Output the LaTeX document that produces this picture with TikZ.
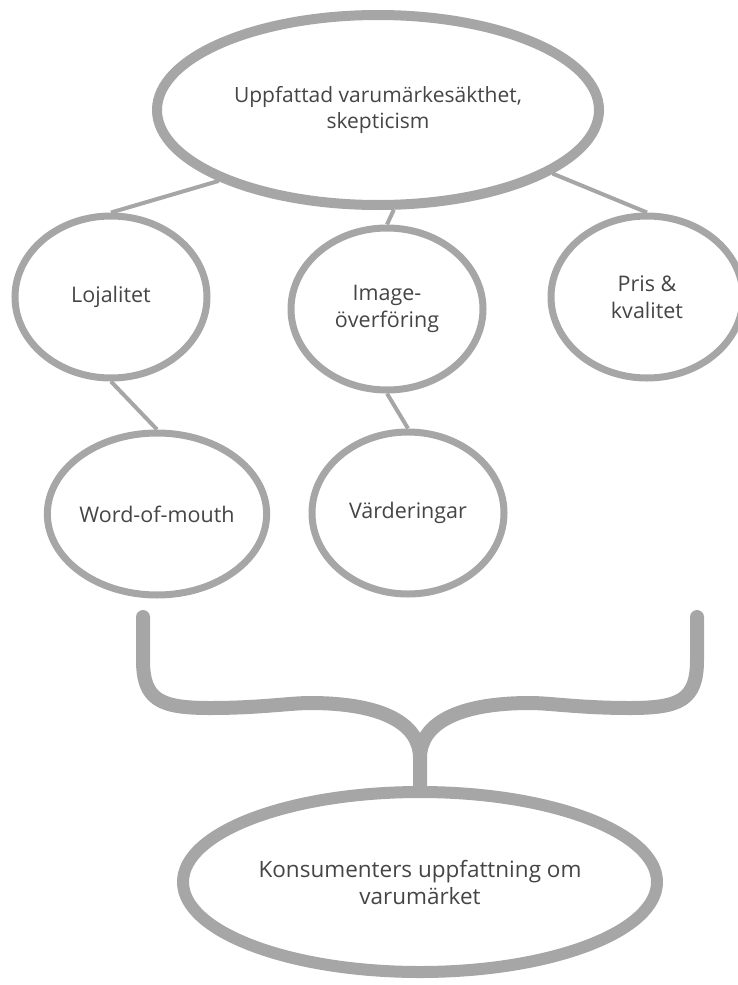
\documentclass[tikz,border=0pt]{standalone}
\usepackage{fontspec}
\setmainfont{Open Sans}
\usetikzlibrary{shapes.geometric}
\definecolor{rim}{HTML}{A6A6A6}
\definecolor{ink}{HTML}{454545}

\begin{document}
\begin{tikzpicture}[x=1pt,y=-1pt,
    every node/.style={ellipse,draw=rim,text=ink,align=center,inner sep=0pt,
      font=\fontsize{21.5}{27}\selectfont},
    bubble/.style={line width=7pt,minimum width=192pt,minimum height=162pt},
    big/.style={line width=10pt,minimum width=442pt,minimum height=190pt},
    link/.style={draw=rim,line width=4pt},
    brace/.style={draw=rim,line width=14pt,line cap=round}]
   \useasboundingbox (0,0) rectangle (737,985);

   \node[big,font=\fontsize{21}{26}\selectfont] (top) at (378,110)
      {Uppfattad varumärkesäkthet,\\skepticism};
   \node[bubble] (loj)  at (111,297) {Lojalitet};
   \node[bubble] (img)  at (387,309) {Image-\\överföring};
   \node[bubble] (pris) at (647,297) {Pris \&\\kvalitet};
   \node[bubble] (wom)  at (157,514) {Word-of-mouth};
   \node[bubble] (vard) at (408,513) {Värderingar};
   \node[big,line width=12pt,minimum width=474pt,minimum height=180pt,
      font=\fontsize{22.5}{27}\selectfont] (cons)
      at (420,882) {Konsumenters uppfattning om\\varumärket};

   \path[link]
    (top.204) edge (loj.north)
    (top.279) edge (img.north)
    (top.340) edge (pris.north)
    (loj.south) edge (wom.north)
    (img.south) edge (vard.north);

   % the brace
   \coordinate (bl) at (143,617);
   \coordinate (br) at (697,617);
   \coordinate (join) at (420,758);
   \draw[brace] (bl) -- (143,660) .. controls (143,700) and (160,708) .. (210,708)
      .. controls (260,708) and (290,703) .. (310,703)
      .. controls (385,703) and (420,725) .. (join) -- (cons.north);
   \draw[brace] (br) -- (697,660) .. controls (697,700) and (680,708) .. (630,708)
      .. controls (580,708) and (550,703) .. (530,703)
      .. controls (455,703) and (420,725) .. (join);
\end{tikzpicture}
\end{document}
